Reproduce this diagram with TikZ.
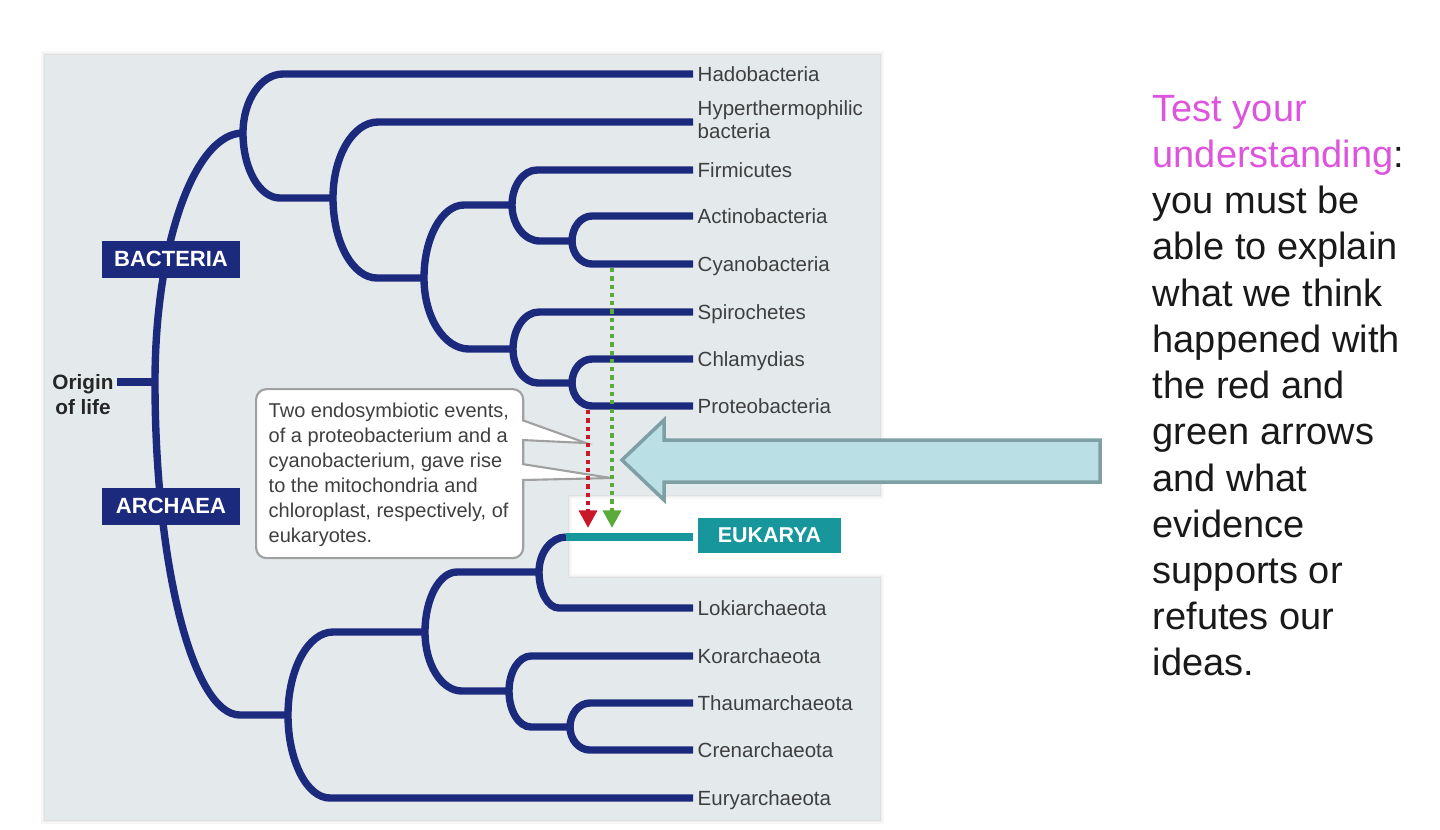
\documentclass[tikz,border=0pt]{standalone}
\usepackage{fontspec}
\setmainfont{Liberation Sans}
\usetikzlibrary{calc,arrows.meta}
\definecolor{navy}{HTML}{1B2A7C}
\definecolor{panelgray}{HTML}{E4EAEC}
\definecolor{tealeu}{HTML}{17969C}
\definecolor{labelgray}{HTML}{3F3F3F}
\definecolor{arrowfill}{HTML}{BADFE5}
\definecolor{arrowedge}{HTML}{7E9FA4}
\definecolor{dotred}{HTML}{C8182A}
\definecolor{dotgreen}{HTML}{5AAA3C}
\definecolor{magentat}{HTML}{DD55DD}
\definecolor{calloutedge}{HTML}{A0A0A0}
% branch: from parent coordinate #2 to child coordinate #3, corner radius #4 (px)
\newcommand\treearm[4][tree]{%
  \draw[#1] let \p1=(#2), \p2=(#3) in
    (\p1) .. controls (\x1,{\y1+0.552*(\y2-\y1)}) and ({\x1+0.448*0.28453*#4},\y2) ..
    ({\x1+0.28453*#4},\y2) -- (\p2);}
\newcommand\panelshape[1]{%
  \path[#1] (45,55) -- (880,55) -- (880,495) -- (568,495) -- (568,578)
    -- (880,578) -- (880,820) -- (45,820) -- cycle;}
\begin{document}
\begin{tikzpicture}[x=0.01cm,y=-0.01cm,
  tree/.style={draw=navy, line width=2.1pt},
  eukline/.style={draw=tealeu, line width=2.1pt},
  lab/.style={anchor=base west, inner sep=0, text=labelgray,
    font=\fontsize{5.83pt}{6.54pt}\selectfont},
  grp/.style={fill=navy, text=white, inner sep=0,
    font=\bfseries\fontsize{6.26pt}{7pt}\selectfont,
    minimum width=1.37cm, minimum height=0.37cm},
  notebox/.style={draw=calloutedge, fill=white, rounded corners=3pt,
    line width=0.6pt, inner sep=0, minimum width=2.67cm, minimum height=1.69cm},
  notetext/.style={anchor=north west, inner sep=0, align=left, text=labelgray,
    font=\fontsize{5.69pt}{7.11pt}\selectfont},
  tailline/.style={draw=calloutedge, line width=0.6pt},
  dotarrow/.style={line width=1.3pt, dash pattern=on 1.2pt off 1.15pt,
    -{Triangle[width=5pt,length=5pt]}},
]
\useasboundingbox[fill=white] (0,0) rectangle (1440,829);

% panel with soft shadow
\panelshape{draw=black, opacity=0.03, line width=2.4pt}
\panelshape{draw=black, opacity=0.04, line width=1.4pt}
\panelshape{draw=black, opacity=0.05, line width=0.7pt}
\panelshape{fill=panelgray}

% coordinates of the tree
\coordinate (O) at (117,382);
\coordinate (R) at (155,382);
\coordinate (A1) at (243,133);
\coordinate (A2) at (333,198);
\coordinate (A3) at (424,278);
\coordinate (A4) at (512,205);
\coordinate (A5) at (513,349);
\coordinate (A6) at (572,241);
\coordinate (A7) at (572,383);
\coordinate (B1) at (288,715);
\coordinate (B2) at (425,632);
\coordinate (B3) at (539,572);
\coordinate (B4) at (509,691);
\coordinate (B5) at (570,727);
\coordinate (THado) at (693,74);
\coordinate (THyp) at (693,122);
\coordinate (TFirm) at (693,170);
\coordinate (TActi) at (693,216);
\coordinate (TCyan) at (693,264);
\coordinate (TSpir) at (693,312);
\coordinate (TChla) at (693,359);
\coordinate (TProt) at (693,406);
\coordinate (EUc) at (566,537);
\coordinate (TEu) at (693,537);
\coordinate (TLoki) at (693,608);
\coordinate (TKor) at (693,656);
\coordinate (TThau) at (693,703);
\coordinate (TCren) at (693,750);
\coordinate (TEury) at (693,798);

% tree
\draw[tree] (O) -- (R);
\treearm{R}{A1}{88}
\treearm{R}{B1}{85}
\treearm{A1}{THado}{40}
\treearm{A1}{A2}{37}
\treearm{A2}{THyp}{45}
\treearm{A2}{A3}{44}
\treearm{A3}{A4}{40}
\treearm{A3}{A5}{45}
\treearm{A4}{TFirm}{25}
\treearm{A4}{A6}{28}
\treearm{A6}{TActi}{20}
\treearm{A6}{TCyan}{20}
\treearm{A5}{TSpir}{26}
\treearm{A5}{A7}{25}
\treearm{A7}{TChla}{20}
\treearm{A7}{TProt}{20}
\treearm{B1}{B2}{45}
\treearm{B1}{TEury}{42}
\treearm{B2}{B3}{32}
\treearm{B2}{B4}{37}
\treearm{B3}{EUc}{27}
\draw[eukline] (EUc) -- (TEu);
\treearm{B3}{TLoki}{20}
\treearm{B4}{TKor}{22}
\treearm{B4}{B5}{22}
\treearm{B5}{TThau}{20}
\treearm{B5}{TCren}{20}

% tip labels
\node[lab] (LHado) at ($(THado)+(4,7)$) {Hadobacteria};
\node[lab, anchor=north west, align=left] (LHyp) at (697,100) {Hyperthermophilic\\bacteria};
\node[lab] (LFirm) at ($(TFirm)+(4,7)$) {Firmicutes};
\node[lab] (LActi) at ($(TActi)+(4,7)$) {Actinobacteria};
\node[lab] (LCyan) at ($(TCyan)+(4,7)$) {Cyanobacteria};
\node[lab] (LSpir) at ($(TSpir)+(4,7)$) {Spirochetes};
\node[lab] (LChla) at ($(TChla)+(4,7)$) {Chlamydias};
\node[lab] (LProt) at ($(TProt)+(4,7)$) {Proteobacteria};
\node[lab] (LLoki) at ($(TLoki)+(4,7)$) {Lokiarchaeota};
\node[lab] (LKor) at ($(TKor)+(4,7)$) {Korarchaeota};
\node[lab] (LThau) at ($(TThau)+(4,7)$) {Thaumarchaeota};
\node[lab] (LCren) at ($(TCren)+(4,7)$) {Crenarchaeota};
\node[lab] (LEury) at ($(TEury)+(4,7)$) {Euryarchaeota};

% group labels
\node[grp] (bact) at (171,259) {BACTERIA};
\node[grp] (arch) at (171,506) {ARCHAEA};
\node[grp, fill=tealeu, minimum width=1.43cm, minimum height=0.35cm,
  font=\bfseries\fontsize{6.1pt}{7pt}\selectfont] (euk) at (769.5,535.5) {EUKARYA};
\node[anchor=north, inner sep=0, align=center, text=black!85,
  font=\bfseries\fontsize{5.9pt}{7.1pt}\selectfont] (origin) at (83,374) {Origin\\of life};

% callout
\coordinate (t1a) at (522,420);
\coordinate (t1b) at (522,440);
\coordinate (t1tip) at (586,443);
\coordinate (t2a) at (522,464);
\coordinate (t2b) at (522,480);
\coordinate (t2tip) at (611,478);
\node[notebox, anchor=north west] (note) at (255,388) {};
\fill[white] ($(t1a)+(-3,0)$) -- (t1tip) -- ($(t1b)+(-3,0)$) -- cycle;
\fill[white] ($(t2a)+(-3,0)$) -- (t2tip) -- ($(t2b)+(-3,0)$) -- cycle;
\draw[tailline] (t1a) -- (t1tip) -- (t1b);
\draw[tailline] (t2a) -- (t2tip) -- (t2b);
\node[notetext] (notetxt) at (268,402) {Two endosymbiotic events,\\of a proteobacterium and a\\cyanobacterium, gave rise\\to the mitochondria and\\chloroplast, respectively, of\\eukaryotes.};

% red and green arrows
\coordinate (RS) at (588,410);
\coordinate (RE) at (588,528);
\coordinate (GS) at (612,268);
\coordinate (GE) at (612,528);
\draw[dotarrow, dotred] (RS) -- (RE);
\draw[dotarrow, dotgreen] (GS) -- (GE);

% big pointing arrow
\draw[fill=arrowfill, draw=arrowedge, line width=1pt, line join=miter]
  (622,460) -- (664,420) -- (664,440) -- (1100,440) -- (1100,482)
  -- (664,482) -- (664,500) -- cycle;

% question text
\node[anchor=north west, inner sep=0, align=left, text=black!90,
  font=\fontsize{10.8pt}{13.14pt}\selectfont] (quiz) at (1152,94.5)
  {\textcolor{magentat}{Test your}\\\textcolor{magentat}{understanding}:\\you must be\\able to explain\\what we think\\happened with\\the red and\\green arrows\\and what\\evidence\\supports or\\refutes our\\ideas.};
\end{tikzpicture}
\end{document}
